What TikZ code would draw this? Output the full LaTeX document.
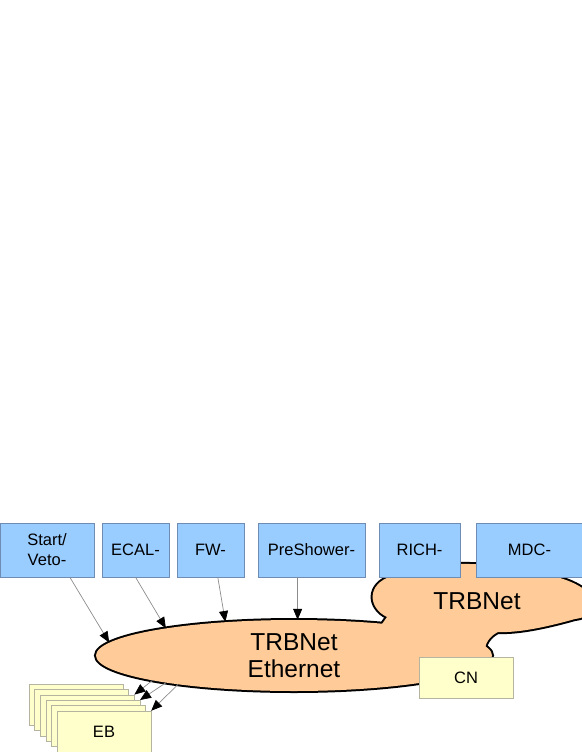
\documentclass[tikz,border=0pt]{standalone}
\usepackage{fontspec}
\setmainfont{Liberation Sans}
\usetikzlibrary{arrows.meta,shapes.geometric,backgrounds}

\definecolor{detblue}{RGB}{153,204,255}
\definecolor{detline}{RGB}{110,140,180}
\definecolor{netorange}{RGB}{255,204,153}
\definecolor{pcyellow}{RGB}{255,255,204}
\definecolor{pcline}{RGB}{180,180,160}

% outline of the TRBNet cloud (pixel grid, y down)
\newcommand{\trbcloud}{(387,617) .. controls (368,608) and (366,584) .. (392,576)
  .. controls (410,566) and (440,563) .. (470,564)
  .. controls (510,565) and (545,570) .. (560,578)
  .. controls (600,590) and (605,615) .. (575,619)
  .. controls (550,626) and (520,633) .. (498,632)
  .. controls (490,636) and (485,643) .. (485,650)
  .. controls (470,662) and (410,650) .. (384,630)
  -- (382,624) -- cycle}

\begin{document}
\begin{tikzpicture}[
  x=1pt, y=-1pt,
  font=\fontsize{16.5}{20}\selectfont,
  det/.style={draw=detline, fill=detblue, align=center, inner sep=0pt,
              minimum height=54pt},
  pc/.style={draw=pcline, fill=pcyellow, inner sep=0pt,
             minimum width=94pt, minimum height=41pt},
  net/.style={font=\fontsize{24.5}{27}\selectfont, align=center, inner sep=0pt},
  rim/.style={draw=black, line width=4pt},
  arr/.style={-{Triangle[length=11pt, width=9pt, color=black]},
              draw=black!45, line width=0.7pt}
]
\useasboundingbox (0,0) rectangle (581,752);

% ================= networks =================
\fill[netorange] \trbcloud;
\node[net, ellipse, fill=netorange, minimum width=396pt, minimum height=71pt]
  (eth) at (294,655.5) {TRBNet\\Ethernet};
\node[net] (trb) at (477,601) {TRBNet};

% outlines go behind both fills, so the two shapes merge
\begin{scope}[on background layer]
  \draw[rim] (eth.center) ellipse [x radius=198, y radius=35.5];
  \draw[rim] \trbcloud;
\end{scope}

% ================= detector front ends =================
\node[det, minimum width=94pt] (start) at (47,550) {Start/\\Veto-};
\node[det, minimum width=67pt] (ecal) at (135.5,550) {ECAL-};
\node[det, minimum width=67pt] (fw) at (210.5,550) {FW-};
\node[det, minimum width=107pt] (pre) at (311.5,550) {PreShower-};
\node[det, minimum width=81pt] (rich) at (419.5,550) {RICH-};
\node[det, minimum width=107pt] (mdc) at (529.5,550) {MDC-};

\draw[arr] (start.-50) -- (eth.176.4);
\draw[arr] (ecal.south) -- (eth.168.3);
\draw[arr] (fw.-75) -- (eth.154.7);
\draw[arr] (pre.-117) -- (pre.-117 |- eth.north);

% ================= event builders and control node =================
\foreach \i in {0,...,4}
  \node[pc] (eb\i) at ({76+5.6*\i},{704.5+5.4*\i}) {};
\node[pc] (eb5) at (104,731.5) {EB};
\node[pc] (cn) at (466,677.5) {CN};

\draw[arr] (eth.-170.3) -- (eb2.north east);
\draw[arr] (eth.-168.6) -- (eb3.north east);
\draw[arr] (eth.-166.6) -- (eb5.north east);

\end{tikzpicture}
\end{document}
